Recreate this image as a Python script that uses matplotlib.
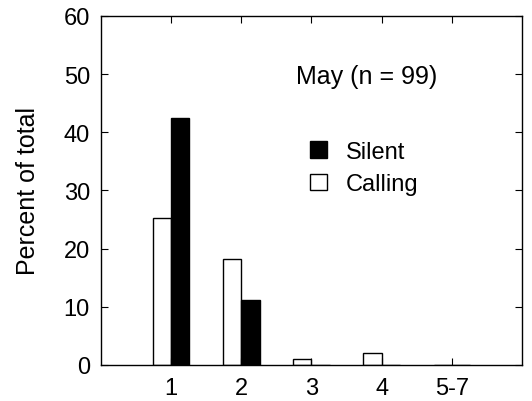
import numpy as np
import matplotlib.pyplot as plt
from matplotlib.patches import Patch

plt.rcParams['font.family'] = ['Liberation Sans', 'DejaVu Sans']

# data (percent of total, n = 99)
categories = ['1', '2', '3', '4', '5-7']
calling = [25.3, 18.2, 1.0, 2.0, 0.0]
silent = [42.4, 11.1, 0.0, 0.0, 0.0]

x = np.arange(1, len(categories) + 1)
width = 0.26

fig = plt.figure(figsize=(5.32, 4.02), dpi=100)
ax = fig.add_axes([0.190, 0.090, 0.791, 0.868])

ax.bar(x - width / 2, calling, width, color='white', edgecolor='black', linewidth=1.0)
ax.bar(x + width / 2, silent, width, color='black', edgecolor='black', linewidth=1.0)

ax.set_xlim(0, 6)
ax.set_ylim(0, 60)
ax.set_xticks(x)
ax.set_xticklabels(categories)
ax.set_yticks(range(0, 61, 10))
ax.tick_params(direction='in', top=True, right=True, length=5, width=0.8,
               labelsize=17)
ax.tick_params(axis='x', pad=9)
ax.tick_params(axis='y', pad=8)
for s in ax.spines.values():
    s.set_linewidth(1.0)

ax.set_ylabel('Percent of total', fontsize=18, labelpad=17)

ax.text(0.632, 0.828, 'May (n = 99)', transform=ax.transAxes,
        ha='center', va='center', fontsize=18)

handles = [Patch(facecolor='black', edgecolor='black', label='Silent'),
           Patch(facecolor='white', edgecolor='black', label='Calling')]
ax.legend(handles=handles, loc='upper left', bbox_to_anchor=(0.469, 0.676),
          frameon=False, fontsize=17, handlelength=0.7, handleheight=0.7,
          handletextpad=0.8, labelspacing=0.45, borderpad=0)

fig.savefig('out.png', dpi=100)
